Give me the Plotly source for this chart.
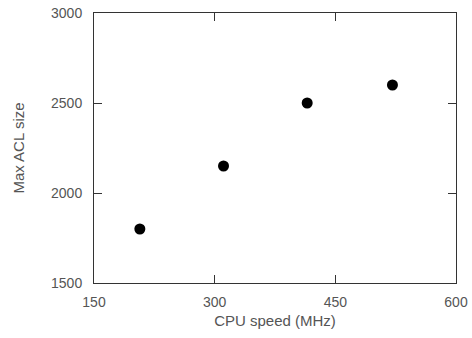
import plotly.graph_objects as go

cpu_speed = [207, 311, 415, 521]
max_acl = [1800, 2150, 2500, 2600]
x_ticks = [150, 300, 450, 600]
y_ticks = [1500, 2000, 2500, 3000]

fig = go.Figure(go.Scatter(
    x=cpu_speed, y=max_acl, mode="markers",
    marker=dict(size=11, color="black"),
))

tick_font = dict(family="Liberation Sans, Arial", size=14, color="#555")
title_font = dict(family="Liberation Sans, Arial", size=15, color="#555")
axis_common = dict(
    showline=True, linecolor="#333", linewidth=1, mirror="ticks",
    ticks="inside", ticklen=8, tickcolor="#333", tickwidth=1,
    showgrid=False, zeroline=False, ticklabeloverflow="allow",
    tickfont=tick_font, title_font=title_font,
)

fig.update_xaxes(range=[150, 600], tickvals=x_ticks, title_text="CPU speed (MHz)",
                 ticklabelstandoff=6, title_standoff=6, **axis_common)
fig.update_yaxes(range=[1500, 3000], tickvals=y_ticks, title_text="Max ACL size",
                 ticklabelstandoff=8, title_standoff=22, **axis_common)

fig.update_layout(
    width=472, height=338,
    margin=dict(l=94, r=16, t=13, b=55, autoexpand=False),
    plot_bgcolor="white", paper_bgcolor="white",
    showlegend=False,
)

# remove the page's default body margin so the figure fills the window
fig.write_html("out.html", config={"displayModeBar": False},
               post_script="document.body.style.margin='0';")
